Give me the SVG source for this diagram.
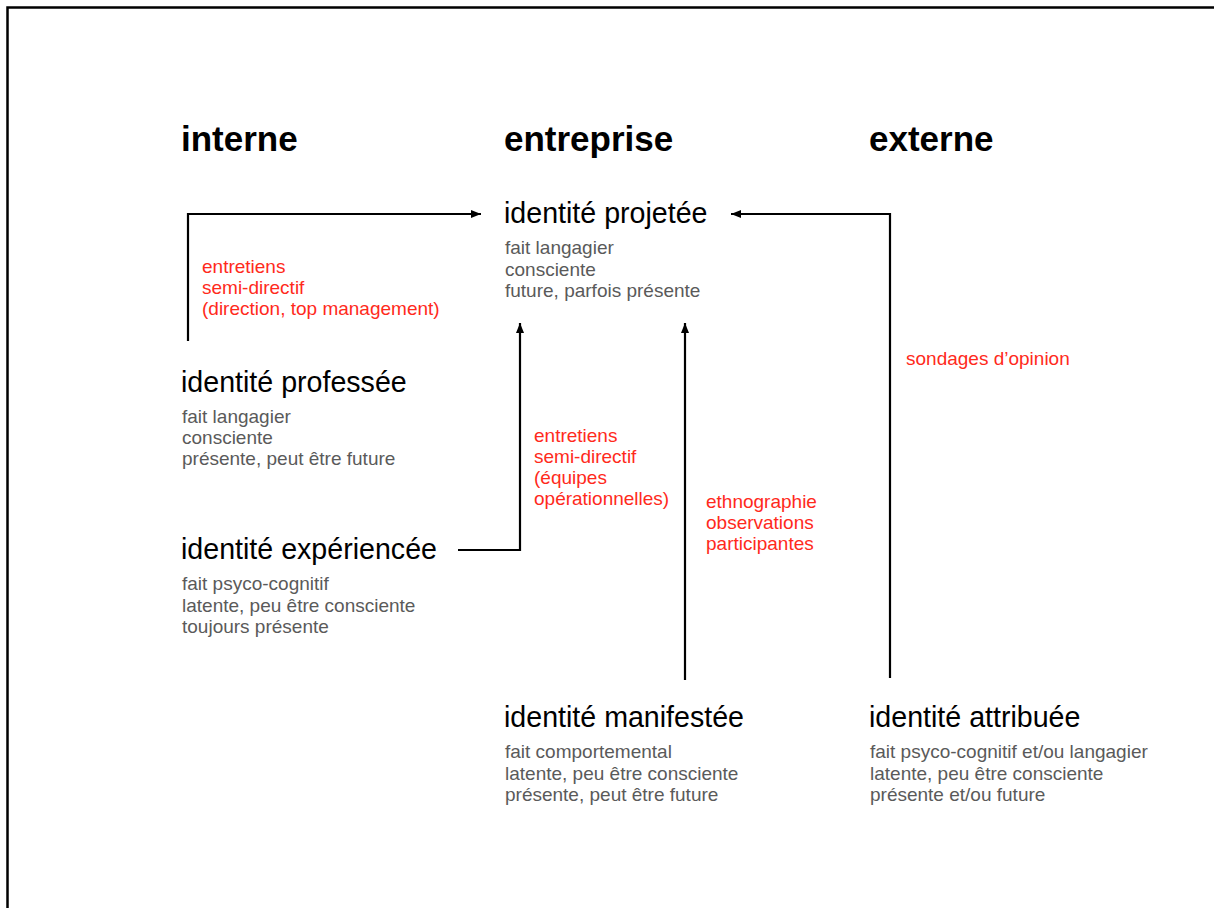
<svg xmlns="http://www.w3.org/2000/svg" width="1214" height="908" viewBox="0 0 1214 908">
<defs>
<style>
.h{font-family:"Liberation Sans",Arial,sans-serif;font-weight:bold;font-size:35px;fill:#000}
.t{font-family:"Liberation Sans",Arial,sans-serif;font-size:28.6px;fill:#000}
.s{font-family:"Liberation Sans",Arial,sans-serif;font-size:19px;fill:#5a5a5a}
.r{font-family:"Liberation Sans",Arial,sans-serif;font-size:19px;fill:#ff2a1c}
.c{fill:none;stroke:#000;stroke-width:2.2}
</style>
<marker id="ah" viewBox="0 0 10 8" refX="10" refY="4" markerWidth="10" markerHeight="8" markerUnits="userSpaceOnUse" orient="auto">
<path d="M0,0 L10,4 L0,8 Z" fill="#000"/>
</marker>
</defs>
<rect width="1214" height="908" fill="#fff"/>
<path d="M7.5,908 V7.5 H1214" fill="none" stroke="#000" stroke-width="2.5"/>

<g id="headers">
<text class="h" x="181" y="151">interne</text>
<text class="h" x="504" y="151">entreprise</text>
<text class="h" x="869" y="151">externe</text>
</g>

<g id="connectors">
<path class="c" d="M188,341 V214 H481" marker-end="url(#ah)"/>
<path class="c" d="M458,550 H520 V323" marker-end="url(#ah)"/>
<path class="c" d="M685,680 V323" marker-end="url(#ah)"/>
<path class="c" d="M890,678 V214 H731" marker-end="url(#ah)"/>
</g>

<g id="labels">
<text class="r" x="202" y="273">entretiens</text>
<text class="r" x="202" y="294">semi-directif</text>
<text class="r" x="202" y="315">(direction, top management)</text>
<text class="r" x="534" y="442">entretiens</text>
<text class="r" x="534" y="463">semi-directif</text>
<text class="r" x="534" y="484">(équipes</text>
<text class="r" x="534" y="505">opérationnelles)</text>
<text class="r" x="706" y="508">ethnographie</text>
<text class="r" x="706" y="529">observations</text>
<text class="r" x="706" y="550">participantes</text>
<text class="r" x="906" y="365">sondages d’opinion</text>
</g>

<g id="projetee">
<text class="t" x="504" y="223">identité projetée</text>
<text class="s" x="505" y="254">fait langagier</text>
<text class="s" x="505" y="276">consciente</text>
<text class="s" x="505" y="297">future, parfois présente</text>
</g>

<g id="professee">
<text class="t" x="181" y="392">identité professée</text>
<text class="s" x="182" y="423">fait langagier</text>
<text class="s" x="182" y="444">consciente</text>
<text class="s" x="182" y="465">présente, peut être future</text>
</g>

<g id="experiencee">
<text class="t" x="181" y="559">identité expériencée</text>
<text class="s" x="182" y="590">fait psyco-cognitif</text>
<text class="s" x="182" y="612">latente, peu être consciente</text>
<text class="s" x="182" y="633">toujours présente</text>
</g>

<g id="manifestee">
<text class="t" x="504" y="727">identité manifestée</text>
<text class="s" x="505" y="758">fait comportemental</text>
<text class="s" x="505" y="780">latente, peu être consciente</text>
<text class="s" x="505" y="801">présente, peut être future</text>
</g>

<g id="attribuee">
<text class="t" x="869" y="727">identité attribuée</text>
<text class="s" x="870" y="758">fait psyco-cognitif et/ou langagier</text>
<text class="s" x="870" y="780">latente, peu être consciente</text>
<text class="s" x="870" y="801">présente et/ou future</text>
</g>
</svg>
